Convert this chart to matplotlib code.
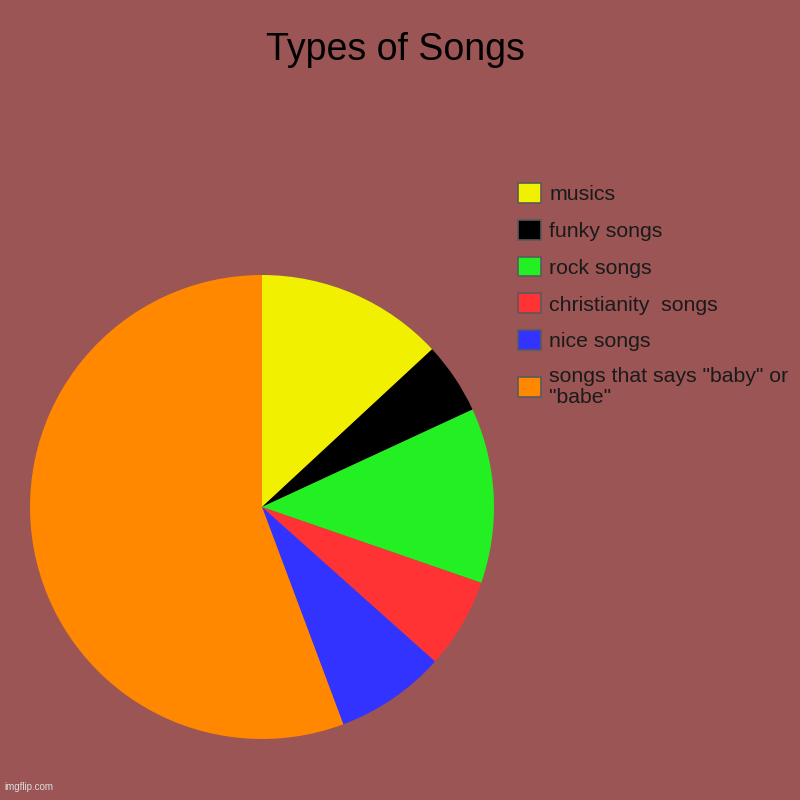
import matplotlib
matplotlib.use("Agg")
import matplotlib.pyplot as plt
from matplotlib.patches import Patch

plt.rcParams['font.family'] = ['Liberation Sans', 'DejaVu Sans']

labels = ['musics', 'funky songs', 'rock songs', 'christianity  songs', 'nice songs',
          'songs that says "baby" or\n"babe"']
values = [13.1, 5.0, 12.2, 6.3, 7.7, 55.7]
colors = ['#f0f000', '#000000', '#22f022', '#ff3333', '#3333ff', '#ff8800']

bg = '#9b5555'
txt = '#1a1a1a'

fig = plt.figure(figsize=(8, 8), dpi=100, facecolor=bg)
ax = fig.add_axes([0.0375, 0.07625, 0.58, 0.58])
ax.set_facecolor(bg)
ax.pie(values, colors=colors, startangle=90, counterclock=False, radius=1,
       wedgeprops=dict(linewidth=0))
ax.set_xlim(-1, 1)
ax.set_ylim(-1, 1)
ax.set_aspect('equal')
ax.axis('off')

fig.text(0.494, 0.9375, 'Types of Songs', ha='center', va='center', fontsize=27, color='#000000')

handles = [Patch(facecolor=c, edgecolor='#5a5a5a', linewidth=1.2) for c in colors]
leg = fig.legend(handles, labels, loc='upper left', bbox_to_anchor=(0.6475, 0.7715),
                 frameon=False, fontsize=15.3, handlelength=1.07, handleheight=1.07,
                 handletextpad=0.4, labelspacing=0.735, borderaxespad=0, borderpad=0)
for t in leg.get_texts():
    t.set_color(txt)
    t.set_linespacing(1.15)

fig.text(0.006, 0.01, 'imgflip.com', fontsize=7, color='#dddddd', ha='left', va='bottom')

fig.savefig('out.png', dpi=100, facecolor=bg)
